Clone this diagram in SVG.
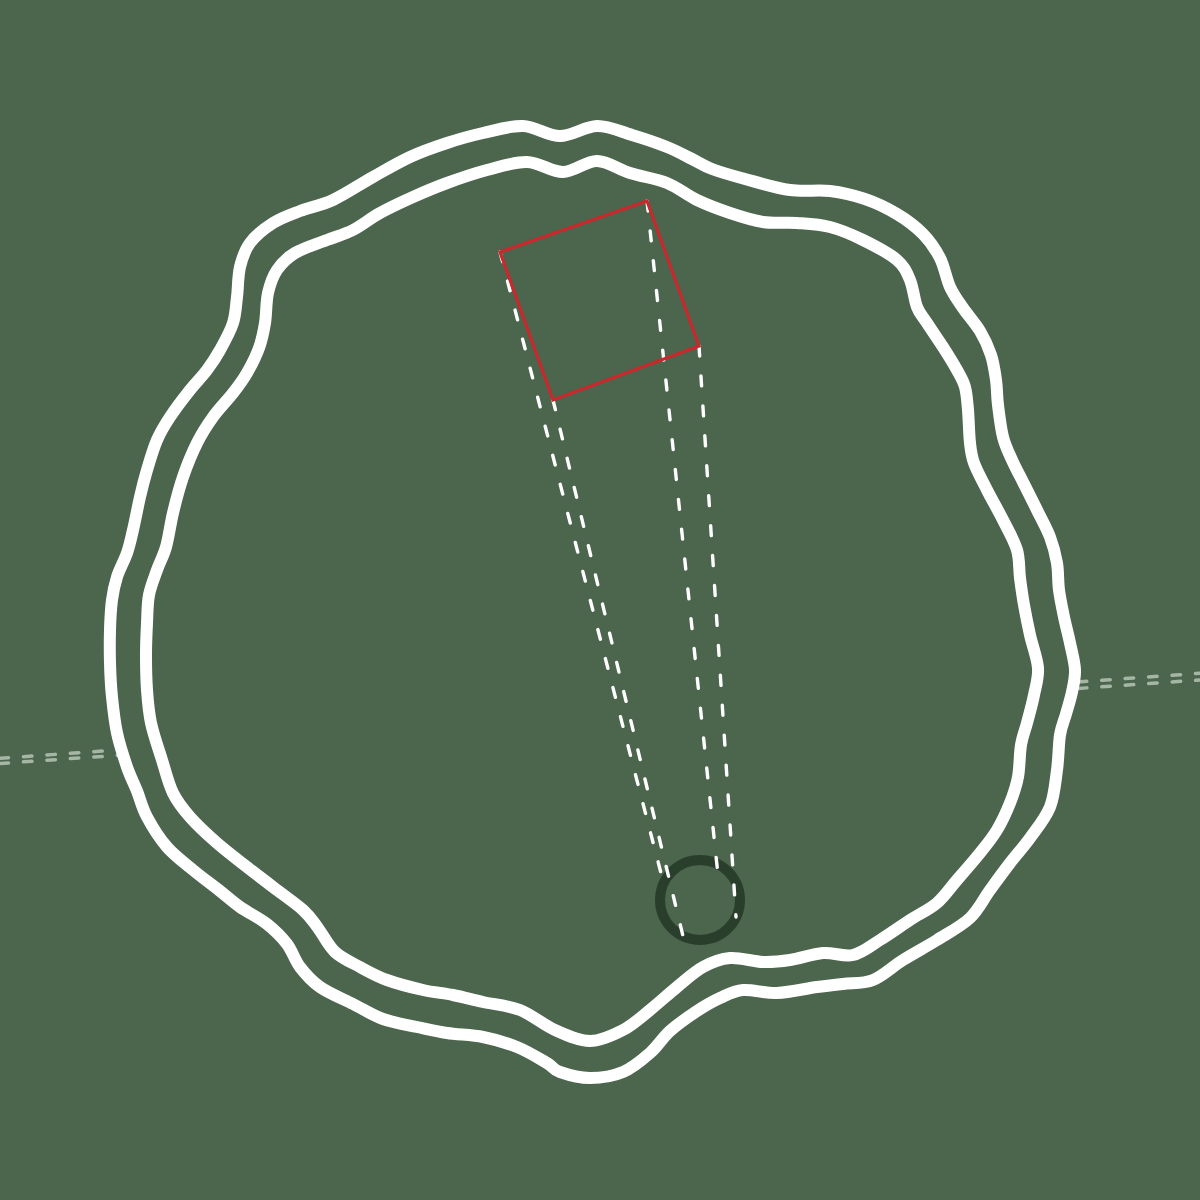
<svg xmlns="http://www.w3.org/2000/svg" width="1200" height="1200" viewBox="0 0 1200 1200">
<style>
.bg{fill:#4c654d}
.axis{fill:none;stroke:#a6b6a4;stroke-width:3.5;stroke-linecap:round;stroke-dasharray:8.5 15}
.wave{fill:#4c654d;stroke:#ffffff;stroke-width:12;stroke-linejoin:round}
.wave2{fill:none;stroke:#ffffff;stroke-width:12;stroke-linejoin:round}
.ray{fill:none;stroke:#ffffff;stroke-width:3.4;stroke-linecap:round;stroke-dasharray:10 20}
.ring{fill:none;stroke:#2a3f2b;stroke-width:10}
.sq{fill:none;stroke:#c9282d;stroke-width:3.2;stroke-linejoin:miter}
</style>
<rect class="bg" x="0" y="0" width="1200" height="1200"/>
<g id="axis">
<line class="axis" x1="0" y1="758.3" x2="1200" y2="673.3"/>
<line class="axis" x1="0" y1="763.5" x2="1200" y2="680"/>
</g>
<g id="outer-boundary">
<path class="wave" d="M523,126 C535.8,126.5 547.7,136 560,136 S585,126.2 597,126 S620.3,131.5 632,135 S657,143 667,147 S684.5,155.3 692,159 S703.2,165.7 712,169 S732,175.5 745,179 S775.8,188 790,190 S817.5,189.5 830,191 S853.8,195.2 865,199 S887.3,208.2 897,214 S915.8,226.7 923,234 S935.5,249.2 940,258 S946.2,278.7 950,287 S958,300.7 963,308 S975.3,323.2 980,331 S988.3,346.8 991,355 S994.8,371.7 996,380 S996.8,395.5 998,405 S1000.7,427.8 1003,437 S1008.5,452.2 1012,460 S1019.8,475.7 1024,484 S1032.7,501.2 1037,510 S1046.7,528.2 1050,537 S1055.5,554.2 1057,563 S1057.8,581 1059,590 S1062.2,608.2 1064,617 S1068.2,634.2 1070,643 S1074.7,661.8 1075,670 S1073.5,684.7 1072,692 S1068,706.8 1066,714 S1061.5,725.7 1060,735 S1058.7,758 1057,770 S1054.5,795.7 1050,807 S1036.7,828.7 1030,838 S1016.7,854.3 1010,863 S996.7,880.8 990,890 S978.8,909.7 970,918 S948.2,933 937,940 S913.7,953.3 903,960 S883,976 873,980 S852.3,982.8 843,984 S828,985.5 817,987 S789.3,992.5 777,993 S752.5,989.2 743,990 S727.7,994.5 720,998 S705.3,1005.5 697,1011 S677.8,1024 670,1031 S657.8,1046.2 650,1053 S633,1067.8 623,1072 S600.5,1078 590,1078 S567.2,1074.5 560,1072 S554.2,1067.2 547,1063 S527.7,1051.3 517,1047 S494.7,1039.3 483,1037 S458,1034.7 447,1033 S427.7,1029.3 417,1027 S393.7,1022.8 383,1019 S363.5,1009.3 353,1004 S328.8,993.2 320,987 S305.5,974.2 300,967 S292.5,951.2 287,944 S274.8,930.2 267,924 S247.8,912.5 240,907 S227.8,897.2 220,891 S201.8,877.3 193,870 S174.7,855.8 167,847 S152,826.3 147,817 S140.3,799.3 137,791 S130.3,776.7 127,767 S119.5,744.7 117,733 S113.2,708.7 112,697 S110.3,674.2 110,663 S109.7,640.5 110,630 S110.8,608.8 112,600 S114.5,584.8 117,577 S124.3,560.8 127,553 S130.8,539.3 133,530 S137.7,507 140,497 S144.2,479.5 147,470 S153.2,448.8 157,440 S164.5,425.3 170,417 S183.8,397.8 190,390 S202,376.7 207,370 S215.7,357.8 220,350 S230.2,331.8 233,323 S235.8,306.3 237,297 S237.8,276 240,267 S244.5,250.3 250,243 S264.7,228.3 273,223 S290,214.8 300,211 S320.8,205.7 333,200 S360.2,184.2 373,177 S397.7,162.7 410,157 S434.8,147 447,143 S470.3,135.8 483,133 S510.2,125.5 523,126 Z"/>
</g>
<g id="inner-boundary">
<path class="wave2" d="M527,162 C539.7,162.3 551.3,172.2 563,172 S585.8,160.8 597,161 S618.3,169.3 630,173 S655.8,178.5 667,183 S686.5,195 697,200 S719,209.3 730,213 S751.8,220.3 763,222 S785.8,222.2 797,223 S819,224.2 830,227 S851.8,234.5 863,240 S889.2,253.3 897,260 S906.7,272.2 910,280 S914.2,299.8 917,307 S922.7,316.3 927,323 S938,339.2 943,347 S953.3,363.3 957,370 S963.2,380.3 965,387 S967.2,400.7 968,410 S969,434.2 970,443 S971.2,455.2 974,463 S982.2,480.5 987,490 S998,510 1003,520 S1014.2,540.3 1017,550 S1018.8,568.8 1020,578 S1022.3,595.5 1024,605 S1027.7,624.5 1030,635 S1037.3,658 1038,668 S1035.8,685.8 1034,695 S1029.2,714.7 1027,723 S1022.5,736 1021,745 S1019.8,767.3 1018,777 S1013.5,794.2 1010,803 S1002,821.7 997,830 S986.7,844.7 980,853 S964.2,871.7 957,880 S944.8,896.3 937,903 S919.5,913.8 910,920 S889.5,934.2 880,940 S862.5,952.8 853,955 S833.5,952.2 823,953 S800,958.5 790,960 S773,962.3 763,962 S740,957.2 730,958 S711.8,962.2 703,967 S685.8,979.8 677,987 S659,1002.8 650,1010 S633,1024.8 623,1030 S601.3,1041 590,1041 S566.7,1035.2 555,1030 S532,1014.7 520,1010 S494.2,1004.5 483,1002 S463,997 453,995 S434,992.5 423,990 S397.5,983.8 387,980 S368.7,971.7 360,967 S342,958.5 335,952 S323.3,935 318,928 S310.5,916.8 303,910 S282.3,894.2 273,887 S256.3,874.3 247,867 S226.5,851.3 217,843 S197.3,825.3 190,817 S177.7,802.5 173,793 S165.7,771.7 162,760 S153.5,734.7 151,723 S147.8,701.3 147,690 S146,666.2 146,655 S146.5,633 147,623 S147.3,603.8 149,595 S154.2,578 157,570 S163.3,556.5 166,547 S170.2,524.7 173,513 S179,488.7 183,477 S192,453 197,443 S207,425.3 213,417 S227.3,400.3 233,393 S242.7,380.5 247,373 S256,356.3 259,348 S263.5,332.2 265,323 S266,301.8 268,293 S272.5,276.7 277,270 S286.7,258 295,253 S317.3,243.8 327,240 S344.2,234.5 353,230 S370,218.5 380,213 S401.8,202 413,197 S434.7,187.5 447,183 S473.7,173.5 487,170 S514.3,161.7 527,162 Z"/>
</g>
<g id="target-ring">
<circle class="ring" cx="700" cy="900" r="40"/>
</g>
<g id="connectors">
<line class="ray" x1="500" y1="252" x2="662" y2="877"/>
<line class="ray" x1="553" y1="400" x2="683" y2="936"/>
<line class="ray" x1="647" y1="201" x2="718" y2="875"/>
<line class="ray" x1="699" y1="346" x2="736" y2="917"/>
</g>
<g id="frame">
<polygon class="sq" points="500,252 647,201 699,346 553,400"/>
</g>
</svg>
